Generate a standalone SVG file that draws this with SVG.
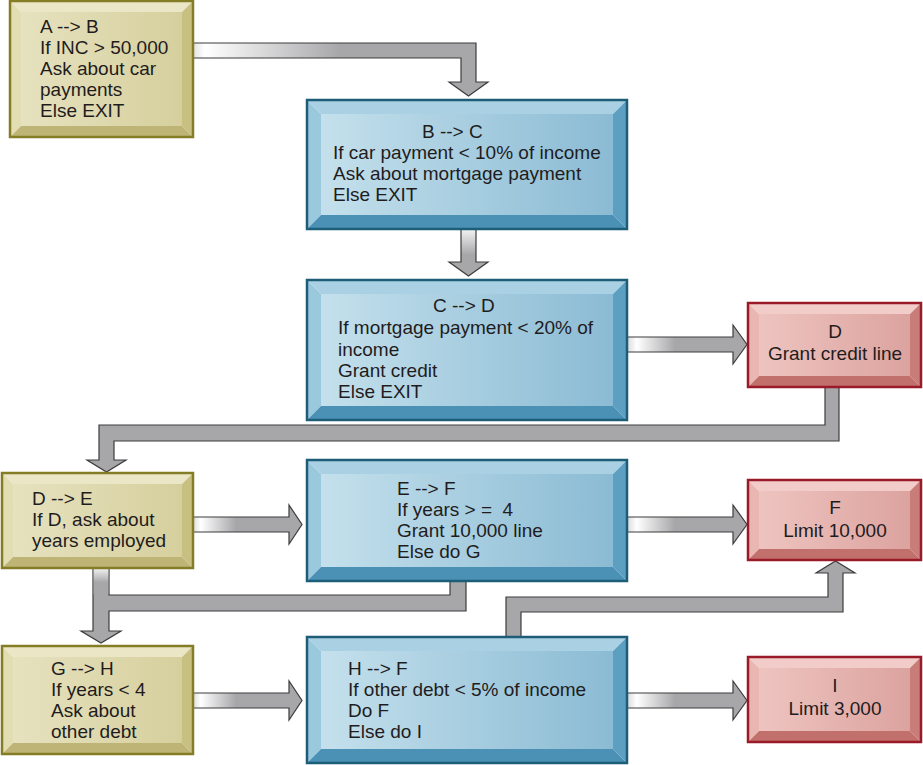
<svg xmlns="http://www.w3.org/2000/svg" width="923" height="765" viewBox="0 0 923 765">
<defs>
<linearGradient id="gBlue" x1="0" y1="0" x2="1" y2="0"><stop offset="0" stop-color="#c4e0ec"/><stop offset="1" stop-color="#8bbbd4"/></linearGradient>
<linearGradient id="gOlive" x1="0" y1="0" x2="1" y2="0"><stop offset="0" stop-color="#e6e2bf"/><stop offset="1" stop-color="#d6cf9d"/></linearGradient>
<linearGradient id="gRed" x1="0" y1="0" x2="1" y2="0"><stop offset="0" stop-color="#eec4c0"/><stop offset="1" stop-color="#dca39f"/></linearGradient>
<linearGradient id="gAB" gradientUnits="userSpaceOnUse" x1="193" y1="0" x2="340" y2="0"><stop offset="0" stop-color="#e2e2e2"/><stop offset="0.08" stop-color="#ffffff"/><stop offset="1" stop-color="#a7a7aa"/></linearGradient>
<linearGradient id="gH" x1="0" y1="0" x2="1" y2="0"><stop offset="0" stop-color="#d9d9d9"/><stop offset="0.08" stop-color="#ffffff"/><stop offset="0.4" stop-color="#a7a7aa"/><stop offset="1" stop-color="#a7a7aa"/></linearGradient>
<linearGradient id="gV" x1="0" y1="0" x2="0" y2="1"><stop offset="0" stop-color="#f4f4f4"/><stop offset="0.55" stop-color="#a7a7aa"/><stop offset="1" stop-color="#a7a7aa"/></linearGradient>
</defs>
<style>
.ar{fill:#a7a7aa;stroke:#3c3c3c;stroke-width:1.2;stroke-linejoin:miter}
.bt{fill:#aad1e3}.bl{fill:#9ac9de}.br{fill:#5c9fc1}.bm{fill:#4b91b6}.bf{fill:url(#gBlue)}
.ot{fill:#ebe7c6}.ol{fill:#e2ddb2}.or{fill:#c8c081}.om{fill:#bdb475}.of{fill:url(#gOlive)}
.rt{fill:#f2ccc8}.rl{fill:#e9b6b1}.rr{fill:#c97d78}.rm{fill:#c2706b}.rf{fill:url(#gRed)}
.bo{fill:none;stroke:#1d5d78;stroke-width:2.5}
.oo{fill:none;stroke:#857d25;stroke-width:2.5}
.ro{fill:none;stroke:#9b1a2a;stroke-width:2.5}
.tx{font-family:"Liberation Sans",Arial,Helvetica,sans-serif;font-size:19px;fill:#1f1c1d}
.c{text-anchor:middle}
</style>

<g id="connectors">
<polygon class="ar" style="fill:url(#gAB)" points="192,43 476,43 476,82 488,82 468.5,96 449,82 461,82 461,58 192,58"/>
<polygon class="ar" style="fill:url(#gV)" points="461,229 476,229 476,262 488,262 468.5,276 449,262 461,262"/>
<polygon class="ar" style="fill:url(#gH)" points="627,337 733,337 733,325 747,344.5 733,364 733,352 627,352"/>
<polygon class="ar" points="825,387 825,425 99,425 99,460 87,460 106.5,472 126,460 114,460 114,441 839,441 839,387"/>
<polygon class="ar" style="fill:url(#gH)" points="192,517 289,517 289,505 302,524.5 289,544 289,532 192,532"/>
<polygon class="ar" style="fill:url(#gH)" points="627,517 733,517 733,505 747,524.5 733,544 733,532 627,532"/>
<polygon class="ar" points="93,568 93,631 81,631 101,643 121,631 109,631 109,611 466,611 466,581 450,581 450,595 109,595 109,568"/>
<rect x="93.6" y="568" width="14.8" height="26" fill="url(#gV)"/>
<polygon class="ar" style="fill:url(#gH)" points="192,693 289,693 289,681 302,700.5 289,720 289,708 192,708"/>
<polygon class="ar" style="fill:url(#gH)" points="627,693 733,693 733,681 747,700.5 733,720 733,708 627,708"/>
<polygon class="ar" points="506,637 506,597 828,597 828,573 816,573 835.5,561 855,573 843,573 843,612 521,612 521,637"/>
</g>

<g id="node-A">
<polygon class="ot" points="10,1 193,1 182,12 21,12"/>
<polygon class="ol" points="10,1 21,12 21,126 10,137"/>
<polygon class="or" points="193,1 193,137 182,126 182,12"/>
<polygon class="om" points="10,137 21,126 182,126 193,137"/>
<rect class="of" x="21" y="12" width="161" height="114"/>
<rect class="oo" x="10" y="1" width="183" height="136"/>
<text class="tx" x="40" y="33">A --&gt; B</text>
<text class="tx" x="40" y="54">If INC &gt; 50,000</text>
<text class="tx" x="40" y="75">Ask about car</text>
<text class="tx" x="40" y="96">payments</text>
<text class="tx" x="40" y="117">Else EXIT</text>
</g>

<g id="node-B">
<polygon class="bt" points="307,100 627,100 613,114 321,114"/>
<polygon class="bl" points="307,100 321,114 321,215 307,229"/>
<polygon class="br" points="627,100 627,229 613,215 613,114"/>
<polygon class="bm" points="307,229 321,215 613,215 627,229"/>
<rect class="bf" x="321" y="114" width="292" height="101"/>
<rect class="bo" x="307" y="100" width="320" height="129"/>
<text class="tx" x="422" y="138">B --&gt; C</text>
<text class="tx" x="333" y="159">If car payment &lt; 10% of income</text>
<text class="tx" x="333" y="180">Ask about mortgage payment</text>
<text class="tx" x="333" y="201">Else EXIT</text>
</g>

<g id="node-C">
<polygon class="bt" points="307,280 627,280 613,294 321,294"/>
<polygon class="bl" points="307,280 321,294 321,406 307,420"/>
<polygon class="br" points="627,280 627,420 613,406 613,294"/>
<polygon class="bm" points="307,420 321,406 613,406 627,420"/>
<rect class="bf" x="321" y="294" width="292" height="112"/>
<rect class="bo" x="307" y="280" width="320" height="140"/>
<text class="tx" x="433" y="312">C --&gt; D</text>
<text class="tx" x="338" y="334">If mortgage payment &lt; 20% of</text>
<text class="tx" x="338" y="356">income</text>
<text class="tx" x="338" y="377">Grant credit</text>
<text class="tx" x="338" y="398">Else EXIT</text>
</g>

<g id="node-D">
<polygon class="rt" points="748,303 921,303 910,314 759,314"/>
<polygon class="rl" points="748,303 759,314 759,376 748,387"/>
<polygon class="rr" points="921,303 921,387 910,376 910,314"/>
<polygon class="rm" points="748,387 759,376 910,376 921,387"/>
<rect class="rf" x="759" y="314" width="151" height="62"/>
<rect class="ro" x="748" y="303" width="173" height="84"/>
<text class="tx c" x="835" y="338">D</text>
<text class="tx c" x="835" y="360">Grant credit line</text>
</g>

<g id="node-DE">
<polygon class="ot" points="2,473 193,473 182,484 13,484"/>
<polygon class="ol" points="2,473 13,484 13,557 2,568"/>
<polygon class="or" points="193,473 193,568 182,557 182,484"/>
<polygon class="om" points="2,568 13,557 182,557 193,568"/>
<rect class="of" x="13" y="484" width="169" height="73"/>
<rect class="oo" x="2" y="473" width="191" height="95"/>
<text class="tx" x="32" y="505">D --&gt; E</text>
<text class="tx" x="32" y="526">If D, ask about</text>
<text class="tx" x="32" y="547">years employed</text>
</g>

<g id="node-E">
<polygon class="bt" points="307,460 627,460 613,474 321,474"/>
<polygon class="bl" points="307,460 321,474 321,567 307,581"/>
<polygon class="br" points="627,460 627,581 613,567 613,474"/>
<polygon class="bm" points="307,581 321,567 613,567 627,581"/>
<rect class="bf" x="321" y="474" width="292" height="93"/>
<rect class="bo" x="307" y="460" width="320" height="121"/>
<text class="tx" x="397" y="495">E --&gt; F</text>
<text class="tx" x="397" y="516" xml:space="preserve">If years &gt; =  4</text>
<text class="tx" x="397" y="537">Grant 10,000 line</text>
<text class="tx" x="397" y="558">Else do G</text>
</g>

<g id="node-F">
<polygon class="rt" points="748,480 921,480 910,491 759,491"/>
<polygon class="rl" points="748,480 759,491 759,549 748,560"/>
<polygon class="rr" points="921,480 921,560 910,549 910,491"/>
<polygon class="rm" points="748,560 759,549 910,549 921,560"/>
<rect class="rf" x="759" y="491" width="151" height="58"/>
<rect class="ro" x="748" y="480" width="173" height="80"/>
<text class="tx c" x="835" y="514">F</text>
<text class="tx c" x="835" y="537">Limit 10,000</text>
</g>

<g id="node-G">
<polygon class="ot" points="2,646 193,646 182,657 13,657"/>
<polygon class="ol" points="2,646 13,657 13,743 2,754"/>
<polygon class="or" points="193,646 193,754 182,743 182,657"/>
<polygon class="om" points="2,754 13,743 182,743 193,754"/>
<rect class="of" x="13" y="657" width="169" height="86"/>
<rect class="oo" x="2" y="646" width="191" height="108"/>
<text class="tx" x="51" y="675">G --&gt; H</text>
<text class="tx" x="51" y="696">If years &lt; 4</text>
<text class="tx" x="51" y="717">Ask about</text>
<text class="tx" x="51" y="738">other debt</text>
</g>

<g id="node-H">
<polygon class="bt" points="307,637 627,637 613,651 321,651"/>
<polygon class="bl" points="307,637 321,651 321,749 307,763"/>
<polygon class="br" points="627,637 627,763 613,749 613,651"/>
<polygon class="bm" points="307,763 321,749 613,749 627,763"/>
<rect class="bf" x="321" y="651" width="292" height="98"/>
<rect class="bo" x="307" y="637" width="320" height="126"/>
<text class="tx" x="348" y="675">H --&gt; F</text>
<text class="tx" x="348" y="696">If other debt &lt; 5% of income</text>
<text class="tx" x="348" y="717">Do F</text>
<text class="tx" x="348" y="738">Else do I</text>
</g>

<g id="node-I">
<polygon class="rt" points="748,657 921,657 910,668 759,668"/>
<polygon class="rl" points="748,657 759,668 759,731 748,742"/>
<polygon class="rr" points="921,657 921,742 910,731 910,668"/>
<polygon class="rm" points="748,742 759,731 910,731 921,742"/>
<rect class="rf" x="759" y="668" width="151" height="63"/>
<rect class="ro" x="748" y="657" width="173" height="85"/>
<text class="tx c" x="835" y="692">I</text>
<text class="tx c" x="835" y="715">Limit 3,000</text>
</g>
</svg>
